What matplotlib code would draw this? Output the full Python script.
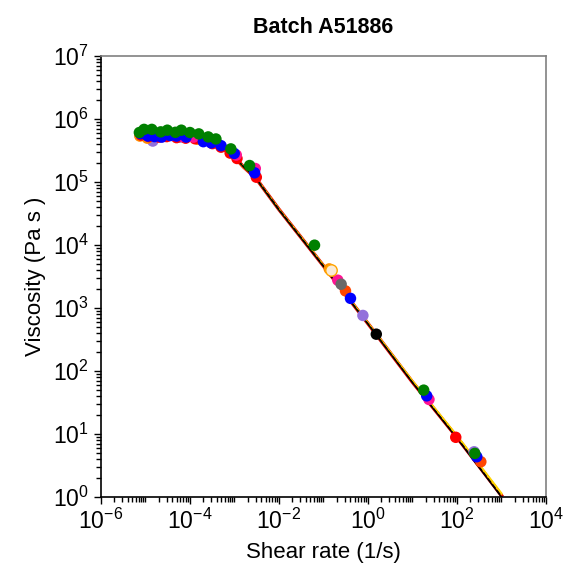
import matplotlib
matplotlib.use('Agg')
import matplotlib.pyplot as plt
from matplotlib.ticker import LogLocator, FixedLocator, NullFormatter

plt.rcParams['font.family'] = ['Liberation Sans', 'DejaVu Sans']
plt.rcParams['mathtext.fontset'] = 'custom'
plt.rcParams['mathtext.rm'] = 'Liberation Sans'
plt.rcParams['mathtext.it'] = 'Liberation Sans:italic'
plt.rcParams['mathtext.bf'] = 'Liberation Sans:bold'
plt.rcParams['axes.unicode_minus'] = False

# fitted curves
fit_x = [8e-6, 1e-5, 3e-5, 1e-4, 3e-4, 6e-4, 1e-3, 1.6e-3, 3e-3, 1e-2, 1e-1, 1, 10, 100, 1000]
fit_black = [5.6e5, 5.6e5, 5.5e5, 5.2e5, 4.3e5, 3.3e5, 2.5e5, 1.75e5, 1.15e5, 3.6e4, 4.6e3, 560, 66, 8.6, 1.0]
fit_red = [5.6e5, 5.6e5, 5.5e5, 5.2e5, 4.3e5, 3.3e5, 2.5e5, 1.75e5, 1.17e5, 3.7e4, 4.7e3, 570, 67, 8.9, 1.06]
fit_orange = [5.6e5, 5.6e5, 5.5e5, 5.2e5, 4.3e5, 3.3e5, 2.5e5, 1.75e5, 1.17e5, 3.7e4, 4.7e3, 575, 68, 9.2, 1.10]
fit_yellow = [5.6e5, 5.6e5, 5.5e5, 5.2e5, 4.3e5, 3.3e5, 2.5e5, 1.75e5, 1.17e5, 3.7e4, 4.8e3, 580, 70, 9.5, 1.15]
fit_dashed = [5.6e5, 5.6e5, 5.5e5, 5.2e5, 4.3e5, 3.3e5, 2.5e5, 1.78e5, 1.18e5, 3.7e4, 4.7e3, 565, 66, 8.8, 1.03]

# measured points per sample
orangered_x = [0.313, 344]
orangered_y = [1.88e3, 3.64]
purple_x = [7.5e-6, 1.46e-5, 2.5e-5, 6e-5, 1.5e-4, 4e-4, 0.77, 243]
purple_y = [5.6e5, 4.5e5, 5.3e5, 5.2e5, 4.9e5, 4.2e5, 766, 5.24]
orange_x = [7.5e-6, 1.1e-5, 5e-5, 1.5e-4, 0.135]
orange_y = [5.4e5, 5.0e5, 5.3e5, 4.8e5, 4.2e3]
red_x = [8e-6, 1.2e-5, 2e-5, 3e-5, 5e-5, 8e-5, 1.3e-4, 2e-4, 3.2e-4, 5e-4, 8e-4, 1.14e-3, 3.1e-3, 94]
red_y = [5.6e5, 5.3e5, 5.2e5, 5.3e5, 5.1e5, 5.0e5, 4.9e5, 4.6e5, 4.1e5, 3.6e5, 2.9e5, 2.38e5, 1.2e5, 8.9]
pink_x = [8.5e-6, 1.8e-5, 4e-5, 7e-5, 1.2e-4, 2.2e-4, 1.1e-3, 2.94e-3, 0.21, 23.5]
pink_y = [6.2e5, 5.8e5, 5.6e5, 5.3e5, 5.2e5, 4.8e5, 2.7e5, 1.65e5, 2.78e3, 35.5]
gray_x = [0.25]
gray_y = [2.4e3]
beige_x = [0.144]
beige_y = [4.0e3]
blue_x = [7.8e-6, 1.13e-5, 1.6e-5, 2.3e-5, 3.6e-5, 5e-5, 8.2e-5, 2.0e-4, 3.0e-4, 5.0e-4, 9.9e-4, 2.84e-3, 0.405, 20.9, 279]
blue_y = [5.9e5, 5.4e5, 5.3e5, 5.2e5, 5.5e5, 5.4e5, 5.2e5, 4.4e5, 4.2e5, 3.8e5, 2.86e5, 1.41e5, 1.43e3, 40.5, 4.37]
black_x = [1.54]
black_y = [386]
green_x = [7.3e-6, 9.3e-6, 1.39e-5, 2.2e-5, 3.1e-5, 4.7e-5, 6.4e-5, 1.0e-4, 1.58e-4, 2.57e-4, 3.83e-4, 8.3e-4, 2.19e-3, 6.3e-2, 17.9, 252]
green_y = [6.15e5, 6.9e5, 6.9e5, 6.3e5, 6.7e5, 6.2e5, 6.7e5, 6.15e5, 5.85e5, 5.24e5, 4.86e5, 3.38e5, 1.84e5, 1.0e4, 49.9, 4.94]

x_major = [1e-6, 1e-4, 1e-2, 1e0, 1e2, 1e4]

fig = plt.figure(figsize=(5.64, 5.74), dpi=100)
ax = fig.add_axes([0.179, 0.134, 0.789, 0.768])

ax.plot(fit_x, fit_red, color='#e00000', lw=2.6, zorder=2)
ax.plot(fit_x, fit_orange, color='darkorange', lw=1.4, zorder=2)
ax.plot(fit_x, fit_yellow, color='gold', lw=1.4, zorder=2)
ax.plot(fit_x, fit_black, color='black', lw=1.0, zorder=3)
ax.plot(fit_x, fit_dashed, color='black', lw=1.0, ls='--', zorder=3)

ms = 68
ax.scatter(orangered_x, orangered_y, s=ms, color='orangered', edgecolors='none', zorder=4)
ax.scatter(purple_x, purple_y, s=ms, color='mediumpurple', edgecolors='none', zorder=4)
ax.scatter(orange_x, orange_y, s=ms, color='darkorange', edgecolors='none', zorder=4)
ax.scatter(red_x, red_y, s=ms, color='red', edgecolors='none', zorder=4)
ax.scatter(pink_x, pink_y, s=ms, color='deeppink', edgecolors='none', zorder=4)
ax.scatter(gray_x, gray_y, s=ms, color='dimgray', edgecolors='none', zorder=4)
ax.scatter(beige_x, beige_y, s=ms, color='antiquewhite', edgecolors='orange', linewidths=1, zorder=4)
ax.scatter(blue_x, blue_y, s=ms, color='blue', edgecolors='none', zorder=5)
ax.scatter(black_x, black_y, s=ms, color='black', edgecolors='none', zorder=5)
ax.scatter(green_x, green_y, s=ms, color='green', edgecolors='none', zorder=6)

ax.set_xscale('log')
ax.set_yscale('log')
ax.set_xlim(1e-6, 1e4)
ax.set_ylim(1e0, 1e7)
ax.xaxis.set_major_locator(FixedLocator(x_major))
ax.xaxis.set_minor_locator(LogLocator(base=10, subs=range(1, 10), numticks=30))
ax.xaxis.set_minor_formatter(NullFormatter())
ax.yaxis.set_major_locator(LogLocator(base=10, numticks=20))
ax.yaxis.set_minor_locator(LogLocator(base=10, subs=range(2, 10), numticks=30))
ax.yaxis.set_minor_formatter(NullFormatter())

ax.tick_params(which='both', direction='out', top=False, right=False, labelsize=16.5, width=1)
ax.tick_params(which='major', length=5)
ax.tick_params(which='minor', length=3.5)
for side in ['left', 'bottom']:
    ax.spines[side].set_color('black')
    ax.spines[side].set_linewidth(1.2)
for side in ['top', 'right']:
    ax.spines[side].set_color('gray')
    ax.spines[side].set_linewidth(1.2)

ax.set_title("Batch A51886", fontsize=15.5, fontweight='bold', pad=17)
ax.set_xlabel("Shear rate (1/s)", fontsize=16, labelpad=6)
ax.set_ylabel("Viscosity (Pa s )", fontsize=16, labelpad=5)

plt.savefig('out.png', dpi=100)
